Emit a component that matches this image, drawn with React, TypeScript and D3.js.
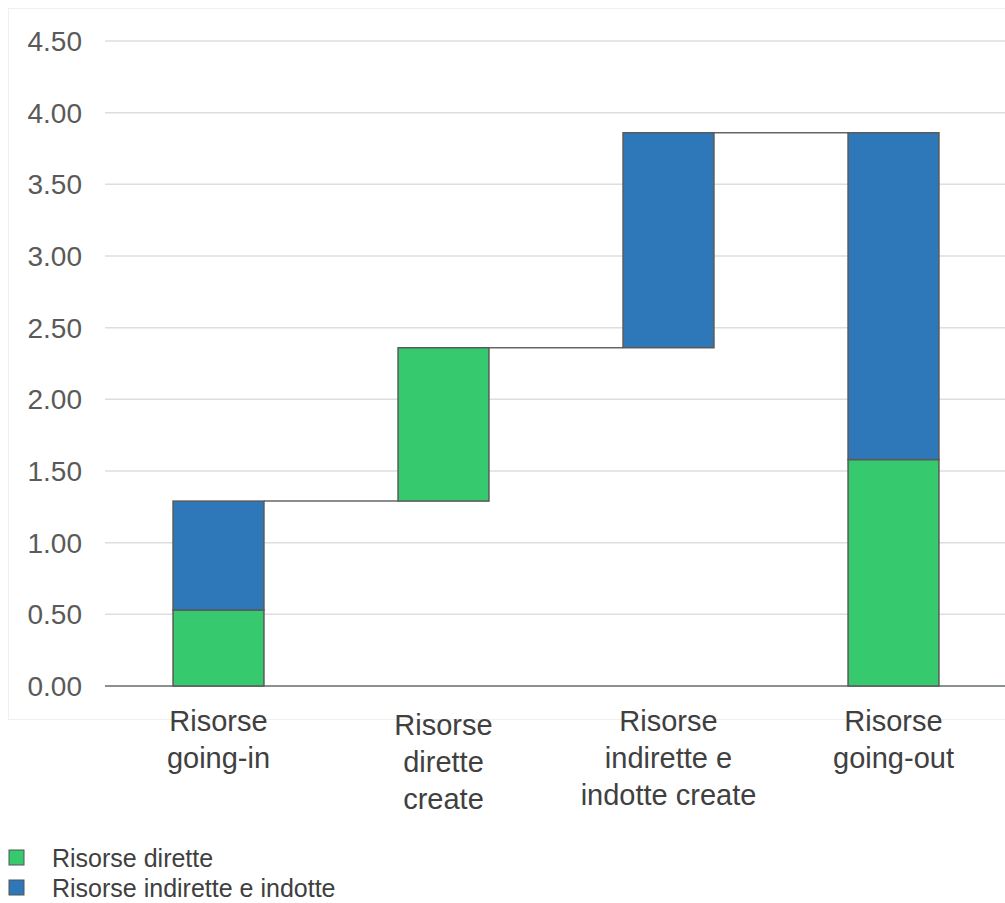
import React from "react";
import * as d3 from "d3";

const categories = ["going-in", "dirette", "indirette", "going-out"];
const categoryLines = [
  ["Risorse", "going-in"],
  ["Risorse", "dirette", "create"],
  ["Risorse", "indirette e", "indotte create"],
  ["Risorse", "going-out"],
];
const baseValues = [0, 1.29, 2.36, 0];
const directValues = [0.53, 1.07, 0, 1.58];
const indirectValues = [0.76, 0, 1.5, 2.28];
const yTicks = [0, 0.5, 1, 1.5, 2, 2.5, 3, 3.5, 4, 4.5];
const seriesNames = ["Risorse dirette", "Risorse indirette e indotte"];
const seriesColors = ["#36c96e", "#2e77b8"];

const W = 1005;
const H = 903;
const FONT = "'Liberation Sans', Arial, sans-serif";

export default function App() {
  const x = d3
    .scaleBand<string>()
    .domain(categories)
    .range([106, 1006])
    .paddingInner(0.596)
    .paddingOuter(0.298);
  const y = d3.scaleLinear().domain([0, 4.5]).range([686, 41]);
  const bw = x.bandwidth();

  const segments = categories.flatMap((c, i) => {
    const b = baseValues[i];
    const segs = [] as { key: string; x: number; y0: number; y1: number; color: string }[];
    const d = directValues[i];
    const ind = indirectValues[i];
    if (d > 0) segs.push({ key: c + "d", x: x(c)!, y0: b, y1: b + d, color: seriesColors[0] });
    if (ind > 0)
      segs.push({ key: c + "i", x: x(c)!, y0: b + d, y1: b + d + ind, color: seriesColors[1] });
    return segs;
  });

  const tops = categories.map((_, i) => baseValues[i] + directValues[i] + indirectValues[i]);

  return (
    <svg width={W} height={H} style={{ position: "absolute", left: 0, top: 0, background: "#fff" }}>
      <rect x={8.5} y={8.5} width={1100} height={711} fill="none" stroke="#f0f0f0" strokeWidth={1} />
      {yTicks.map((t) => (
        <g key={t}>
          {t > 0 && (
            <line x1={105} x2={1005} y1={y(t)} y2={y(t)} stroke="#dedede" strokeWidth={1.5} />
          )}
          <text
            x={82}
            y={y(t)}
            dy="0.36em"
            textAnchor="end"
            fontFamily={FONT}
            fontSize={28}
            fill="#5a5a5a"
          >
            {t.toFixed(2)}
          </text>
        </g>
      ))}
      <line x1={105} x2={1005} y1={y(0)} y2={y(0)} stroke="#8a8f8f" strokeWidth={2} />
      {categories.slice(0, -1).map((c, i) => (
        <line
          key={"conn" + c}
          x1={x(c)! + bw}
          x2={x(categories[i + 1])!}
          y1={y(tops[i])}
          y2={y(tops[i])}
          stroke="#666"
          strokeWidth={1.5}
        />
      ))}
      {segments.map((s) => (
        <rect
          key={s.key}
          x={s.x}
          y={y(s.y1)}
          width={bw}
          height={y(s.y0) - y(s.y1)}
          fill={s.color}
          stroke="#5a5a5a"
          strokeWidth={1.5}
        />
      ))}
      {categories.map((c, i) => (
        <text
          key={"lab" + c}
          x={x(c)! + bw / 2}
          y={i === 1 ? 735 : 731}
          textAnchor="middle"
          fontFamily={FONT}
          fontSize={29}
          fill="#404040"
        >
          {categoryLines[i].map((l, j) => (
            <tspan key={j} x={x(c)! + bw / 2} dy={j === 0 ? 0 : 37}>
              {l}
            </tspan>
          ))}
        </text>
      ))}
      {seriesNames.map((n, i) => (
        <g key={n} transform={`translate(9, ${850 + i * 30})`}>
          <rect x={0} y={0} width={15} height={15} fill={seriesColors[i]} stroke="#555" strokeWidth={1} />
          <text x={43} y={7.5} dy="0.36em" fontFamily={FONT} fontSize={25} fill="#404040">
            {n}
          </text>
        </g>
      ))}
    </svg>
  );
}
